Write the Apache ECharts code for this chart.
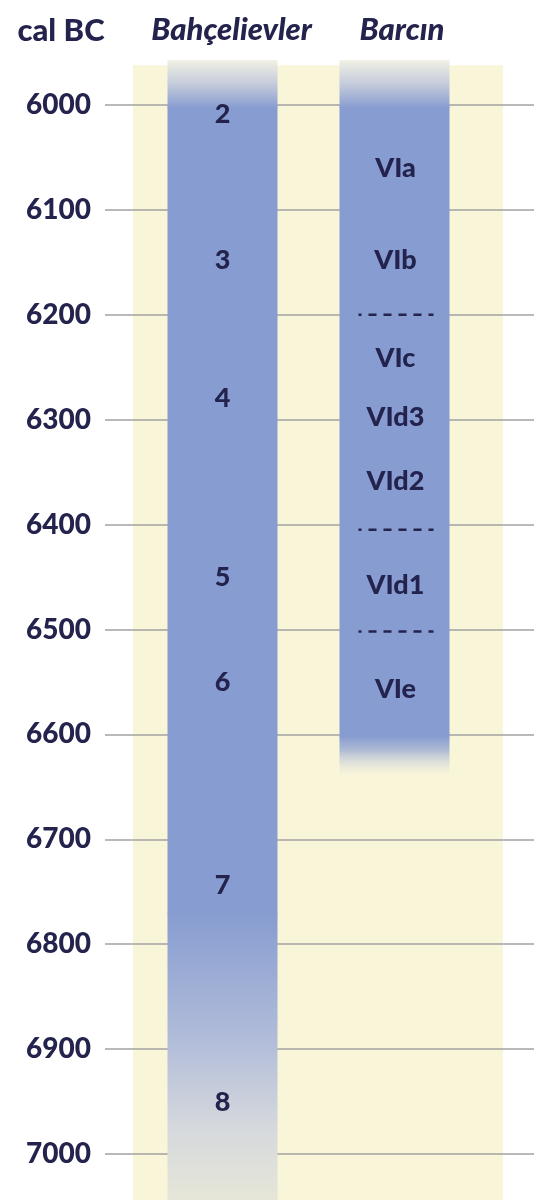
<!DOCTYPE html>
<html>
<head>
<meta charset="utf-8">
<script src="https://cdn.jsdelivr.net/npm/echarts@6/dist/echarts.min.js"></script>
<style>html,body{margin:0;padding:0;background:#fff}#c{width:534px;height:1200px}</style>
</head>
<body>
<div id="c"></div>
<script>
// ---- data ----
var axisTitle = 'cal BC';
var sites = ['Bahçelievler', 'Barcın'];
var tickMin = 6000, tickMax = 7000, tickStep = 100;
// column extents (cal BC): top edge, solid start, solid end, bottom edge
var colTop = [5957, 5957];
var colSolidFrom = [6002, 6002];
var colSolidTo = [6770, 6602];
var colEnd = [7045, 6640];
// yellow background span
var bgSpan = [5962, 7045];
// phase labels
var bahLabels = ['2', '3', '4', '5', '6', '7', '8'];
var bahYears = [6009, 6148, 6280, 6450, 6550, 6744, 6951];
var barLabels = ['VIa', 'VIb', 'VIc', 'VId3', 'VId2', 'VId1', 'VIe'];
var barYears = [6060, 6148, 6241, 6298, 6359, 6458, 6557];
var barDividers = [6200, 6405, 6502];

// ---- style / layout ----
var NAVY = '#23234d';
var BLUE = '#879cd0';
var FONT = 'Lato, "Open Sans", sans-serif';
var colCenters = [222.5, 394.5];
var colWidth = 110;
var bgX = [133, 503];

var chart = echarts.init(document.getElementById('c'), null, {renderer: 'canvas'});

function bgItem(params, api) {
  var p0 = api.coord([0, api.value(0)]);
  var p1 = api.coord([0, api.value(1)]);
  return {
    type: 'rect',
    shape: {x: bgX[0], y: p0[1], width: bgX[1] - bgX[0], height: p1[1] - p0[1]},
    style: {fill: '#f8f5d9'}
  };
}

function colItem(params, api) {
  var i = api.value(0);
  var cx = colCenters[i];
  var x = cx - colWidth / 2;
  var yTop = api.coord([0, api.value(1)])[1];
  var yS0 = api.coord([0, api.value(2)])[1];
  var yS1 = api.coord([0, api.value(3)])[1];
  var yEnd = api.coord([0, api.value(4)])[1];
  var bottomStops = i === 0 ? [
    {offset: 0, color: BLUE},
    {offset: 0.45, color: '#b2bdd9'},
    {offset: 0.75, color: '#d6d9dc'},
    {offset: 1, color: '#e6e6d8'}
  ] : [
    {offset: 0, color: BLUE},
    {offset: 0.35, color: 'rgba(150,168,210,0.75)'},
    {offset: 1, color: 'rgba(220,222,225,0)'}
  ];
  return {
    type: 'group',
    children: [
      {type: 'rect', shape: {x: x, y: yTop, width: colWidth, height: yS0 - yTop + 1},
        style: {fill: new echarts.graphic.LinearGradient(0, 0, 0, 1, [
          {offset: 0, color: '#f2f1e4'},
          {offset: 0.5, color: '#c4cbdb'},
          {offset: 1, color: BLUE}
        ])}},
      {type: 'rect', shape: {x: x, y: yS0, width: colWidth, height: yS1 - yS0 + 1},
        style: {fill: BLUE}},
      {type: 'rect', shape: {x: x, y: yS1, width: colWidth, height: yEnd - yS1},
        style: {fill: new echarts.graphic.LinearGradient(0, 0, 0, 1, bottomStops)}}
    ]
  };
}

function labelItem(params, api) {
  var i = api.value(0);
  var y = api.coord([0, api.value(1)])[1];
  var txt = (i === 0 ? bahLabels : barLabels)[api.value(2)];
  return {
    type: 'text',
    style: {x: colCenters[i] + (i === 0 ? 0 : 1), y: y, text: txt, fill: NAVY,
      font: '900 27px ' + FONT, align: 'center', verticalAlign: 'middle'}
  };
}

function dividerItem(params, api) {
  var y = api.coord([0, api.value(0)])[1];
  var cx = colCenters[1];
  return {
    type: 'line',
    shape: {x1: cx - 36, y1: y, x2: cx + 39, y2: y},
    style: {stroke: NAVY, lineWidth: 2.5, lineDash: [8, 7], lineDashOffset: 5}
  };
}

var labelData = [];
bahLabels.forEach(function (t, k) { labelData.push([0, bahYears[k], k]); });
barLabels.forEach(function (t, k) { labelData.push([1, barYears[k], k]); });

var titleCenters = [226.5, 397];
var titles = [{
  text: axisTitle, left: 56, top: 10, textAlign: 'center',
  textStyle: {color: NAVY, fontFamily: FONT, fontWeight: 900, fontSize: 31}
}];
sites.forEach(function (s, i) {
  titles.push({
    text: s, left: titleCenters[i], top: 9, textAlign: 'center',
    textStyle: {color: NAVY, fontFamily: FONT, fontWeight: 900, fontStyle: 'italic', fontSize: 31}
  });
});

chart.setOption({
  animation: false,
  title: titles,
  grid: {left: 105, right: 0, top: 105, bottom: 46},
  xAxis: {type: 'value', min: 0, max: 1, show: false},
  yAxis: {
    type: 'value', inverse: true, min: tickMin, max: tickMax, interval: tickStep,
    axisLine: {show: false}, axisTick: {show: false},
    axisLabel: {color: NAVY, fontFamily: FONT, fontWeight: 900, fontSize: 28, margin: 14,
      formatter: function (v) { return String(v); }},
    splitLine: {show: true, lineStyle: {color: '#a2a2a2', width: 1.6}}
  },
  series: [
    {type: 'custom', z: -5, clip: false, silent: true, renderItem: bgItem, data: [bgSpan]},
    {type: 'custom', z: 3, clip: false, silent: true, renderItem: colItem,
      data: sites.map(function (s, i) { return [i, colTop[i], colSolidFrom[i], colSolidTo[i], colEnd[i]]; })},
    {type: 'custom', z: 4, clip: false, silent: true, renderItem: dividerItem,
      data: barDividers.map(function (v) { return [v]; })},
    {type: 'custom', z: 5, clip: false, silent: true, renderItem: labelItem, data: labelData}
  ]
});
</script>
</body>
</html>
